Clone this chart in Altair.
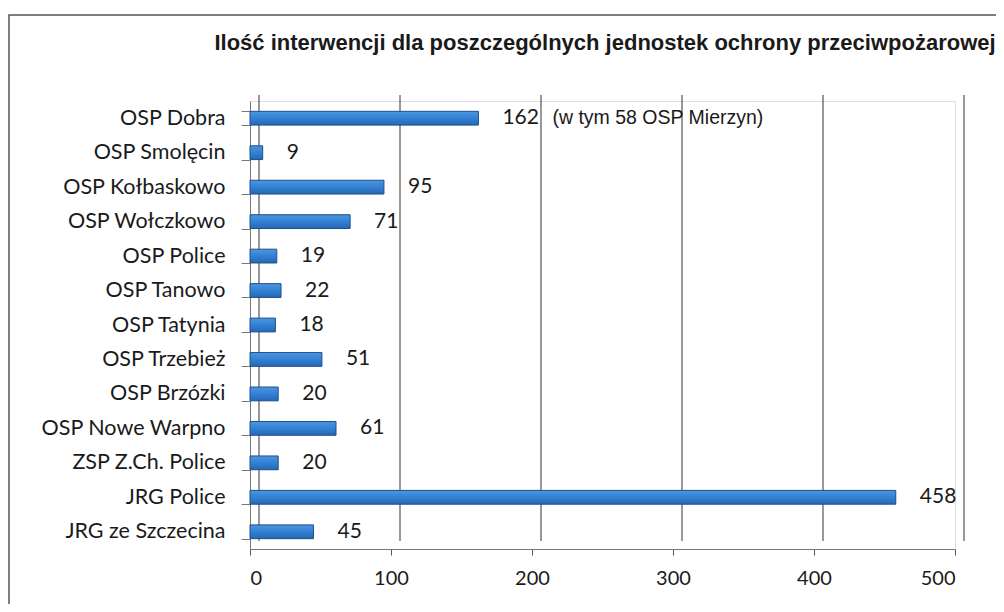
import altair as alt
import pandas as pd

title_text = "Ilość interwencji dla poszczególnych jednostek ochrony przeciwpożarowej"
units = ["OSP Dobra", "OSP Smolęcin", "OSP Kołbaskowo", "OSP Wołczkowo", "OSP Police",
         "OSP Tanowo", "OSP Tatynia", "OSP Trzebież", "OSP Brzózki", "OSP Nowe Warpno",
         "ZSP Z.Ch. Police", "JRG Police", "JRG ze Szczecina"]
counts = [162, 9, 95, 71, 19, 22, 18, 51, 20, 61, 20, 458, 45]
notes = ["(w tym 58 OSP Mierzyn)", "", "", "", "", "", "", "", "", "", "", "", ""]
x_ticks = [0, 100, 200, 300, 400, 500]

df = pd.DataFrame({"unit": units, "count": counts, "note": notes})
grid_df = pd.DataFrame({"v": x_ticks})
title_df = pd.DataFrame({"t": [title_text]})

FONT = "Lato"
xs = alt.Scale(domain=[0, 500], nice=False, zero=True)
ys = alt.Scale(domain=units, paddingInner=0.6, paddingOuter=0.3)

frame = alt.Chart(title_df).mark_rect(fill=None, stroke="#555555", strokeWidth=1.5).encode(
    x=alt.value(-241), x2=alt.value(800), y=alt.value(-86), y2=alt.value(560)
)

title = alt.Chart(title_df).mark_text(font="Liberation Sans", fontSize=22, fontWeight="bold",
                                      color="#1a1a1a", align="center", baseline="middle").encode(
    x=alt.value(355), y=alt.value(-58), text="t:N"
)

grid = alt.Chart(grid_df).mark_rule(color="#333333", strokeWidth=1, xOffset=9).encode(
    x=alt.X("v:Q", scale=xs),
    y=alt.value(-6), y2=alt.value(440)
)

bars = alt.Chart(df).mark_bar(
    color={"x1": 0, "y1": 0, "x2": 0, "y2": 1, "gradient": "linear",
           "stops": [{"offset": 0, "color": "#4c96e0"}, {"offset": 0.5, "color": "#3381d4"},
                     {"offset": 1, "color": "#2667b3"}]},
    stroke="#1d4f8c", strokeWidth=1
).encode(
    x=alt.X("count:Q", scale=xs,
            axis=alt.Axis(values=x_ticks, grid=False, domainColor="#777777", tickColor="#555555",
                          tickSize=6, labelFont=FONT, labelFontSize=20, labelColor="#1a1a1a",
                          labelPadding=13, title=None)),
    y=alt.Y("unit:N", scale=ys, sort=units,
            axis=alt.Axis(title=None, labelFont=FONT, labelFontSize=21.5, labelColor="#1a1a1a",
                          labelLimit=400, tickBand="extent", tickSize=9, tickColor="#777777",
                          domainColor="#777777", labelPadding=16))
)

values = alt.Chart(df).mark_text(align="left", baseline="middle", dx=24, font=FONT,
                                 fontSize=21, color="#1a1a1a").encode(
    x=alt.X("count:Q", scale=xs), y=alt.Y("unit:N", scale=ys, sort=units), text="count:Q"
)

annot = alt.Chart(df).mark_text(align="left", baseline="middle", dx=74, font="Liberation Sans",
                                fontSize=19.5, color="#1a1a1a").encode(
    x=alt.X("count:Q", scale=xs), y=alt.Y("unit:N", scale=ys, sort=units), text="note:N"
)

chart = alt.layer(frame, title, grid, bars, values, annot).properties(
    width=705, height=448,
    autosize=alt.AutoSizeParams(type="none"),
    padding={"left": 242, "top": 93, "right": 41, "bottom": 55}
).configure_view(stroke=None).configure(background="white")

chart.save("out.html", embed_options={"renderer": "svg", "actions": False})
